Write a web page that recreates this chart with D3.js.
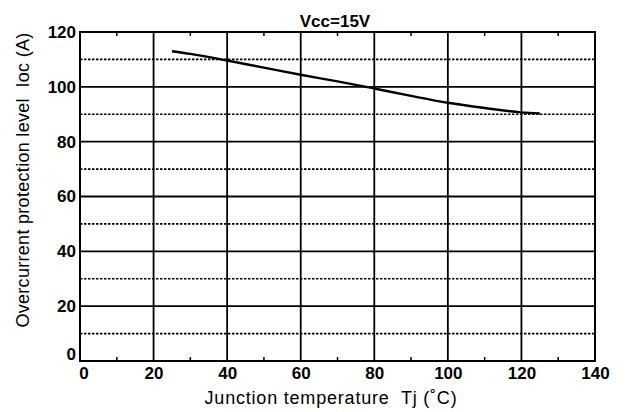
<!DOCTYPE html>
<html><head><meta charset="utf-8">
<script src="https://cdn.jsdelivr.net/npm/d3@7"></script>
<style>body{margin:0;background:#fff}</style>
</head><body>
<svg id="c" width="626" height="412"></svg>
<script>
const xTicks = [0,20,40,60,80,100,120,140];
const yTicks = [0,20,40,60,80,100,120];
const yDotted = [10,30,50,70,90,110];
const xMinor = [10,30,50,70,90,110,130];
const curveTj = [25,30,40,50,60,70,80,90,100,110,120,125];
const curveIoc = [113,112,109.6,107,104.4,102,99.4,96.7,94.2,92.3,90.7,90.3];
const title = "Vcc=15V";
const xLabel = "Junction temperature  Tj (\u02DAC)";
const yLabel = "Overcurrent protection level  Ioc (A)";

const svg = d3.select("#c");
const L=80,R=595,T=32,B=361;
const x = d3.scaleLinear().domain([0,140]).range([L,R]);
const y = d3.scaleLinear().domain([0,120]).range([B,T]);
const font = "Arial, 'Liberation Sans', sans-serif";

// dotted gridlines
svg.selectAll(".dot").data(yDotted).enter().append("line")
 .attr("x1",L).attr("x2",R).attr("y1",d=>y(d)).attr("y2",d=>y(d))
 .attr("stroke","#000").attr("stroke-width",1.6).attr("stroke-dasharray","2.5,1.5");
// solid gridlines
svg.selectAll(".hs").data(yTicks.slice(1,-1)).enter().append("line")
 .attr("x1",L).attr("x2",R).attr("y1",d=>y(d)).attr("y2",d=>y(d))
 .attr("stroke","#000").attr("stroke-width",1.8);
svg.selectAll(".vs").data(xTicks.slice(1,-1)).enter().append("line")
 .attr("y1",T).attr("y2",B).attr("x1",d=>x(d)).attr("x2",d=>x(d))
 .attr("stroke","#000").attr("stroke-width",1.8);
// minor ticks top and bottom
svg.selectAll(".mt").data(xMinor).enter().append("line")
 .attr("x1",d=>x(d)).attr("x2",d=>x(d)).attr("y1",T).attr("y2",T+4)
 .attr("stroke","#000").attr("stroke-width",1.5);
svg.selectAll(".mb").data(xMinor).enter().append("line")
 .attr("x1",d=>x(d)).attr("x2",d=>x(d)).attr("y1",B).attr("y2",B-4)
 .attr("stroke","#000").attr("stroke-width",1.5);
// frame
svg.append("rect").attr("x",L).attr("y",T).attr("width",R-L).attr("height",B-T)
 .attr("fill","none").attr("stroke","#000").attr("stroke-width",2);

// curve
const pts = curveTj.map((t,i)=>[t,curveIoc[i]]);
svg.append("path").datum(pts)
 .attr("d",d3.line().x(d=>x(d[0])).y(d=>y(d[1])).curve(d3.curveMonotoneX))
 .attr("fill","none").attr("stroke","#000").attr("stroke-width",2.4);

// axes labels
const xAxis = d3.axisBottom(x).tickValues(xTicks).tickSize(0).tickPadding(6);
const gx = svg.append("g").attr("transform",`translate(0,${B})`).call(xAxis);
gx.select(".domain").remove();
gx.selectAll("text").attr("font-family",font).attr("font-size",17).attr("font-weight","bold").attr("fill","#000");
gx.selectAll(".tick").filter(d=>d===0).select("text").attr("dx","0.2em");
const yAxis = d3.axisLeft(y).tickValues(yTicks).tickSize(0).tickPadding(4);
const gy = svg.append("g").attr("transform",`translate(${L},0)`).call(yAxis);
gy.select(".domain").remove();
gy.selectAll("text").attr("font-family",font).attr("font-size",17).attr("font-weight","bold").attr("fill","#000");
gy.selectAll(".tick").filter(d=>d===0).select("text").attr("dy","-0.1em");

svg.append("text").attr("x",335).attr("y",27).attr("text-anchor","middle")
 .attr("font-family",font).attr("font-size",17).attr("font-weight","bold").text(title);
svg.append("text").attr("x",331).attr("y",404).attr("text-anchor","middle")
 .attr("font-family",font).attr("font-size",18).attr("letter-spacing","0.8")
 .style("white-space","pre").text(xLabel);
svg.append("text").attr("transform","translate(29,180) rotate(-90)").attr("text-anchor","middle")
 .attr("font-family",font).attr("font-size",18).attr("letter-spacing","0.3")
 .style("white-space","pre").text(yLabel);
</script>
</body></html>
